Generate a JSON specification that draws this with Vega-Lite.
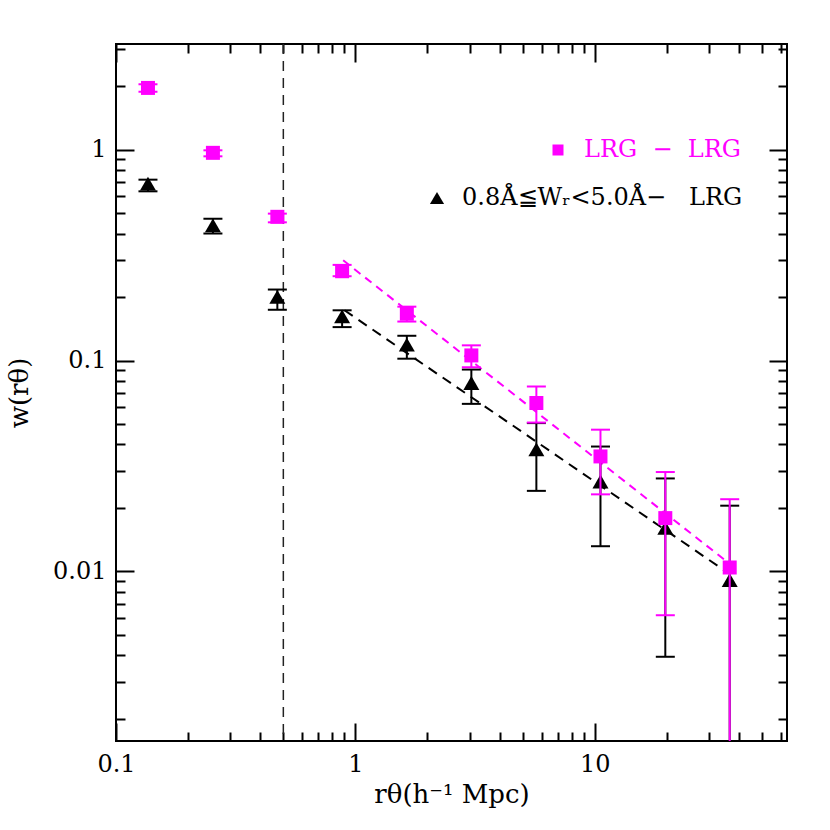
{
  "$schema": "https://vega.github.io/schema/vega-lite/v6.json",
  "width": 671,
  "height": 697,
  "autosize": {"type": "none"},
  "padding": {"left": 116, "top": 44, "right": 43, "bottom": 89},
  "background": "white",
  "config": {
    "view": {"stroke": "black", "strokeWidth": 2},
    "font": "DejaVu Serif",
    "axis": {
      "grid": false, "domain": false, "labelFont": "DejaVu Serif", "labelFontSize": 24,
      "labelColor": "black", "titleFont": "DejaVu Serif", "titleFontSize": 26,
      "titleFontWeight": "normal", "titleColor": "black", "tickColor": "black",
      "labelFlush": false, "labelOverlap": false, "labelBound": false
    }
  },
  "datasets": {
    "mag": [
      {"series": "LRG\u00a0\u00a0\u2212\u00a0\u00a0LRG", "x": 0.136, "y": 1.96, "lo": 1.88, "hi": 2.04},
      {"series": "LRG\u00a0\u00a0\u2212\u00a0\u00a0LRG", "x": 0.254, "y": 0.965, "lo": 0.929, "hi": 0.992},
      {"series": "LRG\u00a0\u00a0\u2212\u00a0\u00a0LRG", "x": 0.472, "y": 0.48, "lo": 0.452, "hi": 0.497},
      {"series": "LRG\u00a0\u00a0\u2212\u00a0\u00a0LRG", "x": 0.88, "y": 0.265, "lo": 0.251, "hi": 0.284},
      {"series": "LRG\u00a0\u00a0\u2212\u00a0\u00a0LRG", "x": 1.64, "y": 0.1667, "lo": 0.153, "hi": 0.18},
      {"series": "LRG\u00a0\u00a0\u2212\u00a0\u00a0LRG", "x": 3.05, "y": 0.1057, "lo": 0.0929, "hi": 0.118},
      {"series": "LRG\u00a0\u00a0\u2212\u00a0\u00a0LRG", "x": 5.7, "y": 0.0629, "lo": 0.0508, "hi": 0.0753},
      {"series": "LRG\u00a0\u00a0\u2212\u00a0\u00a0LRG", "x": 10.56, "y": 0.0351, "lo": 0.0232, "hi": 0.047},
      {"series": "LRG\u00a0\u00a0\u2212\u00a0\u00a0LRG", "x": 19.7, "y": 0.0179, "lo": 0.0062, "hi": 0.0296},
      {"series": "LRG\u00a0\u00a0\u2212\u00a0\u00a0LRG", "x": 36.6, "y": 0.01044, "lo": 0.001, "hi": 0.022}
    ],
    "blk": [
      {"series": "0.8\u00c5\u2266W\u1d63<5.0\u00c5\u2212\u00a0\u00a0\u00a0LRG", "x": 0.136, "y": 0.69, "lo": 0.634, "hi": 0.72},
      {"series": "0.8\u00c5\u2266W\u1d63<5.0\u00c5\u2212\u00a0\u00a0\u00a0LRG", "x": 0.254, "y": 0.437, "lo": 0.4, "hi": 0.47},
      {"series": "0.8\u00c5\u2266W\u1d63<5.0\u00c5\u2212\u00a0\u00a0\u00a0LRG", "x": 0.472, "y": 0.2003, "lo": 0.174, "hi": 0.217},
      {"series": "0.8\u00c5\u2266W\u1d63<5.0\u00c5\u2212\u00a0\u00a0\u00a0LRG", "x": 0.88, "y": 0.162, "lo": 0.144, "hi": 0.173},
      {"series": "0.8\u00c5\u2266W\u1d63<5.0\u00c5\u2212\u00a0\u00a0\u00a0LRG", "x": 1.64, "y": 0.119, "lo": 0.102, "hi": 0.131},
      {"series": "0.8\u00c5\u2266W\u1d63<5.0\u00c5\u2212\u00a0\u00a0\u00a0LRG", "x": 3.05, "y": 0.0782, "lo": 0.0623, "hi": 0.0906},
      {"series": "0.8\u00c5\u2266W\u1d63<5.0\u00c5\u2212\u00a0\u00a0\u00a0LRG", "x": 5.7, "y": 0.0379, "lo": 0.0241, "hi": 0.0505},
      {"series": "0.8\u00c5\u2266W\u1d63<5.0\u00c5\u2212\u00a0\u00a0\u00a0LRG", "x": 10.56, "y": 0.0267, "lo": 0.01317, "hi": 0.0391},
      {"series": "0.8\u00c5\u2266W\u1d63<5.0\u00c5\u2212\u00a0\u00a0\u00a0LRG", "x": 19.7, "y": 0.0161, "lo": 0.00394, "hi": 0.0276},
      {"series": "0.8\u00c5\u2266W\u1d63<5.0\u00c5\u2212\u00a0\u00a0\u00a0LRG", "x": 36.6, "y": 0.0091, "lo": 0.001, "hi": 0.0205}
    ],
    "fitm": [{"x": 0.889, "y": 0.2985}, {"x": 35.6, "y": 0.01114}],
    "fitb": [{"x": 0.9, "y": 0.173}, {"x": 36.2, "y": 0.0098}],
    "vline": [{"x": 0.5}]
  },
  "resolve": {"scale": {"color": "independent"}},
  "layer": [
    {
      "data": {"name": "vline"},
      "mark": {"type": "rule", "color": "#222222", "strokeWidth": 1.5, "strokeDash": [10, 7]},
      "encoding": {
        "x": {"field": "x", "type": "quantitative", "scale": {"type": "log", "domain": [0.1, 63.5], "nice": false},
          "axis": {"orient": "bottom", "values": [0.1, 1, 10], "format": "~g", "tickSize": -18, "tickWidth": 2, "labelPadding": 29, "title": "r\u03b8(h\u207b\u00b9 Mpc)", "titlePadding": 5}}
      }
    },
    {
      "data": {"name": "fitb"},
      "mark": {"type": "line", "color": "black", "strokeWidth": 2, "strokeDash": [10, 7]},
      "encoding": {
        "x": {"field": "x", "type": "quantitative", "scale": {"type": "log", "domain": [0.1, 63.5], "nice": false},
          "axis": {"orient": "bottom", "values": [0.2, 0.3, 0.4, 0.5, 0.6, 0.7, 0.8, 0.9, 2, 3, 4, 5, 6, 7, 8, 9, 20, 30, 40, 50, 60], "labels": false, "tickSize": -9, "tickWidth": 2, "title": null}},
        "y": {"field": "y", "type": "quantitative", "scale": {"type": "log", "domain": [0.001571, 3.166], "nice": false},
          "axis": {"orient": "left", "values": [0.01, 0.1, 1], "format": "~g", "tickSize": -18, "tickWidth": 2, "labelPadding": 28, "title": "w(r\u03b8)", "titlePadding": 20}}
      }
    },
    {
      "data": {"name": "fitm"},
      "mark": {"type": "line", "color": "#ff00ff", "strokeWidth": 2, "strokeDash": [8, 6]},
      "encoding": {
        "x": {"field": "x", "type": "quantitative", "scale": {"type": "log", "domain": [0.1, 63.5], "nice": false},
          "axis": {"orient": "top", "values": [0.1, 1, 10], "labels": false, "tickSize": -18, "tickWidth": 2, "title": null}},
        "y": {"field": "y", "type": "quantitative", "scale": {"type": "log", "domain": [0.001571, 3.166], "nice": false},
          "axis": {"orient": "left", "values": [0.002, 0.003, 0.004, 0.005, 0.006, 0.007, 0.008, 0.009, 0.02, 0.03, 0.04, 0.05, 0.06, 0.07, 0.08, 0.09, 0.2, 0.3, 0.4, 0.5, 0.6, 0.7, 0.8, 0.9, 2, 3], "labels": false, "tickSize": -9, "tickWidth": 2, "title": null}}
      }
    },
    {
      "data": {"name": "blk"},
      "mark": {"type": "rule", "color": "black", "strokeWidth": 2, "clip": true},
      "encoding": {
        "x": {"field": "x", "type": "quantitative", "scale": {"type": "log", "domain": [0.1, 63.5], "nice": false},
          "axis": {"orient": "top", "values": [0.2, 0.3, 0.4, 0.5, 0.6, 0.7, 0.8, 0.9, 2, 3, 4, 5, 6, 7, 8, 9, 20, 30, 40, 50, 60], "labels": false, "tickSize": -9, "tickWidth": 2, "title": null}},
        "y": {"field": "lo", "type": "quantitative", "scale": {"type": "log", "domain": [0.001571, 3.166], "nice": false},
          "axis": {"orient": "right", "values": [0.01, 0.1, 1], "labels": false, "tickSize": -18, "tickWidth": 2, "title": null}},
        "y2": {"field": "hi"}
      }
    },
    {
      "data": {"name": "blk"},
      "mark": {"type": "tick", "orient": "horizontal", "color": "black", "size": 19, "thickness": 2, "clip": true, "opacity": 1},
      "encoding": {
        "x": {"field": "x", "type": "quantitative", "scale": {"type": "log", "domain": [0.1, 63.5], "nice": false}, "axis": null},
        "y": {"field": "lo", "type": "quantitative", "scale": {"type": "log", "domain": [0.001571, 3.166], "nice": false},
          "axis": {"orient": "right", "values": [0.002, 0.003, 0.004, 0.005, 0.006, 0.007, 0.008, 0.009, 0.02, 0.03, 0.04, 0.05, 0.06, 0.07, 0.08, 0.09, 0.2, 0.3, 0.4, 0.5, 0.6, 0.7, 0.8, 0.9, 2, 3], "labels": false, "tickSize": -9, "tickWidth": 2, "title": null}}
      }
    },
    {
      "data": {"name": "blk"},
      "mark": {"type": "tick", "orient": "horizontal", "color": "black", "size": 19, "thickness": 2, "clip": true, "opacity": 1},
      "encoding": {
        "x": {"field": "x", "type": "quantitative", "scale": {"type": "log", "domain": [0.1, 63.5], "nice": false}, "axis": null},
        "y": {"field": "hi", "type": "quantitative", "scale": {"type": "log", "domain": [0.001571, 3.166], "nice": false}, "axis": null}
      }
    },
    {
      "data": {"name": "blk"},
      "mark": {"type": "point", "shape": "triangle-up", "filled": true, "size": 256, "opacity": 1, "strokeWidth": 0},
      "encoding": {
        "x": {"field": "x", "type": "quantitative", "scale": {"type": "log", "domain": [0.1, 63.5], "nice": false}, "axis": null},
        "y": {"field": "y", "type": "quantitative", "scale": {"type": "log", "domain": [0.001571, 3.166], "nice": false}, "axis": null},
        "color": {"field": "series", "type": "nominal", "scale": {"range": ["black"]},
          "legend": {"orient": "none", "legendX": 309, "legendY": 142, "symbolType": "triangle-up", "symbolSize": 200, "symbolStrokeWidth": 0, "labelFont": "DejaVu Serif", "labelFontSize": 24, "labelColor": "black", "labelOffset": 13, "labelLimit": 500, "title": null, "padding": 0}}
      }
    },
    {
      "data": {"name": "mag"},
      "mark": {"type": "rule", "color": "#ff00ff", "strokeWidth": 2, "clip": true},
      "encoding": {
        "x": {"field": "x", "type": "quantitative", "scale": {"type": "log", "domain": [0.1, 63.5], "nice": false}, "axis": null},
        "y": {"field": "lo", "type": "quantitative", "scale": {"type": "log", "domain": [0.001571, 3.166], "nice": false}, "axis": null},
        "y2": {"field": "hi"}
      }
    },
    {
      "data": {"name": "mag"},
      "mark": {"type": "tick", "orient": "horizontal", "color": "#ff00ff", "size": 19, "thickness": 2, "clip": true, "opacity": 1},
      "encoding": {
        "x": {"field": "x", "type": "quantitative", "scale": {"type": "log", "domain": [0.1, 63.5], "nice": false}, "axis": null},
        "y": {"field": "lo", "type": "quantitative", "scale": {"type": "log", "domain": [0.001571, 3.166], "nice": false}, "axis": null}
      }
    },
    {
      "data": {"name": "mag"},
      "mark": {"type": "tick", "orient": "horizontal", "color": "#ff00ff", "size": 19, "thickness": 2, "clip": true, "opacity": 1},
      "encoding": {
        "x": {"field": "x", "type": "quantitative", "scale": {"type": "log", "domain": [0.1, 63.5], "nice": false}, "axis": null},
        "y": {"field": "hi", "type": "quantitative", "scale": {"type": "log", "domain": [0.001571, 3.166], "nice": false}, "axis": null}
      }
    },
    {
      "data": {"name": "mag"},
      "mark": {"type": "point", "shape": "square", "filled": true, "size": 196, "opacity": 1, "strokeWidth": 0},
      "encoding": {
        "x": {"field": "x", "type": "quantitative", "scale": {"type": "log", "domain": [0.1, 63.5], "nice": false}, "axis": null},
        "y": {"field": "y", "type": "quantitative", "scale": {"type": "log", "domain": [0.001571, 3.166], "nice": false}, "axis": null},
        "color": {"field": "series", "type": "nominal", "scale": {"range": ["#ff00ff"]},
          "legend": {"orient": "none", "legendX": 430, "legendY": 94, "symbolType": "square", "symbolSize": 121, "symbolStrokeWidth": 0, "labelFont": "DejaVu Serif", "labelFontSize": 24, "labelColor": "#ff00ff", "labelOffset": 14, "labelLimit": 500, "title": null, "padding": 0}}
      }
    }
  ]
}
